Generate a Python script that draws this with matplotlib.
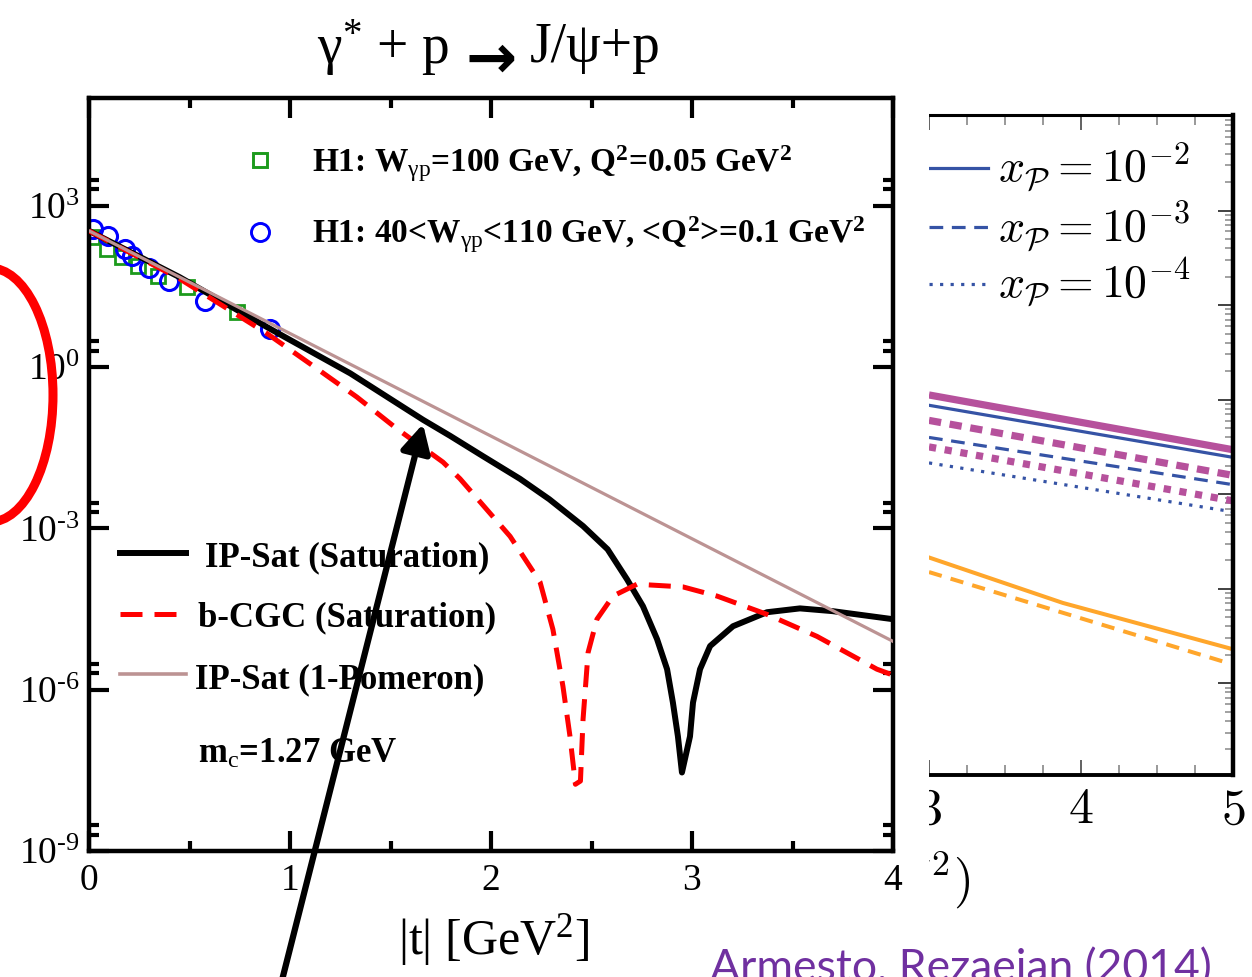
import matplotlib
matplotlib.use("Agg")
import matplotlib.pyplot as plt
from matplotlib.patches import Ellipse, Rectangle, FancyArrowPatch
from matplotlib.ticker import FixedLocator, FixedFormatter, NullFormatter

plt.rcParams.update({
    "font.family": ["Liberation Serif", "DejaVu Serif"],
    "mathtext.fontset": "custom",
    "mathtext.rm": "Liberation Serif",
    "mathtext.it": "Liberation Serif:italic",
    "mathtext.bf": "Liberation Serif:bold",
})

# ---------------- main panel data ----------------
h1_w100_t = [0.015, 0.09, 0.164, 0.244, 0.343, 0.49, 0.736]
h1_w100_y = [263, 158, 112, 76, 50, 31, 10.7]

h1_range_t = [0.02, 0.095, 0.18, 0.214, 0.30, 0.40, 0.577, 0.90]
h1_range_y = [372, 275, 158, 117, 68, 40, 17, 5.1]

ipsat_t = [0.0, 0.45, 0.90, 1.30, 1.662, 1.796, 1.96, 2.144, 2.29, 2.458, 2.58,
           2.677, 2.756, 2.826, 2.876, 2.905, 2.93, 2.95, 2.99, 3.005, 3.04,
           3.09, 3.204, 3.373, 3.537, 3.70, 4.0]
ipsat_y = [339, 46.8, 5.13, 0.759, 0.104, 0.0525, 0.0219, 8.32e-3, 3.47e-3,
           1.10e-3, 4.07e-4, 1.12e-4, 3.55e-5, 8.71e-6, 2.40e-6, 5.75e-7,
           1.35e-7, 2.88e-8, 1.35e-7, 5.75e-7, 2.40e-6, 6.46e-6, 1.51e-5,
           2.75e-5, 3.24e-5, 2.88e-5, 2.04e-5]

bcgc_t = [0.0, 0.45, 0.886, 1.114, 1.333, 1.532, 1.761, 1.846, 2.095, 2.244,
          2.308, 2.358, 2.393, 2.42, 2.445, 2.458, 2.483, 2.527, 2.607, 2.726,
          2.955, 3.124, 3.373, 3.622, 3.92, 4.0]
bcgc_y = [339, 43.7, 4.17, 1.05, 0.275, 0.0708, 0.0170, 8.32e-3, 7.08e-4,
          1.0e-4, 1.32e-5, 1.15e-6, 1.35e-7, 1.74e-8, 2.0e-8, 2.82e-7, 4.90e-6,
          2.04e-5, 5.50e-5, 9.12e-5, 8.13e-5, 5.50e-5, 2.51e-5, 9.77e-6,
          2.40e-6, 1.86e-6]

pomeron_t = [0.0, 4.0]
pomeron_y = [339, 7.9e-6]

main_xticks = [0, 1, 2, 3, 4]
main_xtick_labels = ["0", "1", "2", "3", "4"]
main_yticks = [1e-9, 1e-6, 1e-3, 1, 1e3]
main_ytick_labels = ["$10^{‐9}$", "$10^{‐6}$", "$10^{‐3}$", "$10^{0}$", "$10^{3}$"]

# ---------------- right (partly hidden) panel data ----------------
rp_x = [3.0, 5.0]
mag_solid = [1120, 295]
blue_solid = [871, 245]
mag_dash = [603, 158]
blue_dash = [398, 126]
mag_dot = [316, 85]
blue_dot = [214, 65]
orange_solid_x = [3.0, 3.88, 5.0]
orange_solid_y = [21.4, 7.08, 2.29]
orange_dash_x = [3.0, 4.95]
orange_dash_y = [15.0, 1.67]
right_xtick_labels = ["$3$", "$4$", "$5$"]
right_legend = [r"$x_{\mathcal{P}} = 10^{-2}$", r"$x_{\mathcal{P}} = 10^{-3}$",
                r"$x_{\mathcal{P}} = 10^{-4}$"]

W, H = 1252, 977
fig = plt.figure(figsize=(W / 100, H / 100), dpi=100)


def fx(px):
    return px / W


def fy(py):
    return 1 - py / H


# ================= right panel =================
axr = fig.add_axes([fx(929), fy(775), (1233 - 929) / W, (775 - 115) / H], zorder=0)
axr.set_xlim(3, 5)
axr.set_yscale("log")
axr.set_ylim(10 ** -0.97, 10 ** 6.01)
MAG, BLU, ORA = "#B6519C", "#3553A5", "#FFA62B"
axr.plot(rp_x, mag_solid, color=MAG, lw=5.2, solid_capstyle="butt")
axr.plot(rp_x, blue_solid, color=BLU, lw=2.3)
axr.plot(rp_x, mag_dash, color=MAG, lw=5.2, dashes=(1.7, 1.2))
axr.plot(rp_x, blue_dash, color=BLU, lw=2.3, dashes=(4.3, 2.7))
axr.plot(rp_x, mag_dot, color=MAG, lw=5.2, dashes=(1.0, 1.2))
axr.plot(rp_x, blue_dot, color=BLU, lw=2.3, dashes=(1.0, 2.3))
axr.plot(orange_solid_x, orange_solid_y, color=ORA, lw=2.9)
axr.plot(orange_dash_x, orange_dash_y, color=ORA, lw=2.9, dashes=(3.3, 2.3))

leg_styles = [dict(), dict(dashes=(4.3, 2.7)), dict(dashes=(1.0, 2.3))]
leg_y = [0.9197, 0.830, 0.744]
for yy, st, lab in zip(leg_y, leg_styles, right_legend):
    axr.plot([0, 0.194], [yy, yy], transform=axr.transAxes, color=BLU, lw=2.3, **st)
    axr.text(0.227, yy, lab, transform=axr.transAxes, fontsize=33,
             math_fontfamily="cm", va="center", ha="left")

axr.xaxis.set_major_locator(FixedLocator([3, 4, 5]))
axr.xaxis.set_minor_locator(FixedLocator([3.25, 3.5, 3.75, 4.25, 4.5, 4.75]))
axr.tick_params(axis="x", which="both", direction="in", top=True, bottom=True,
                labelbottom=False, labeltop=False)
axr.tick_params(axis="x", which="major", length=11, width=1.3, color="#555555")
axr.tick_params(axis="x", which="minor", length=7.5, width=1.2, color="#888888")
axr.yaxis.set_ticks_position("right")
axr.tick_params(axis="y", which="both", direction="in", left=False, right=True,
                labelleft=False, labelright=False)
axr.tick_params(axis="y", which="major", length=11, width=1.3, color="#333333")
axr.tick_params(axis="y", which="minor", length=6, width=1.1, color="#888888")
axr.spines["left"].set_visible(False)
axr.spines["top"].set_linewidth(2.2)
axr.spines["bottom"].set_linewidth(2.8)
axr.spines["right"].set_linewidth(3.2)
for xv, lab in zip([3, 4, 5], right_xtick_labels):
    axr.text(xv, -0.0545, lab, transform=axr.get_xaxis_transform(), fontsize=36,
             math_fontfamily="cm", ha="center", va="center")
fig.text(fx(970), fy(895), r"$|t|\ (\mathrm{GeV}^2)$", fontsize=37,
         math_fontfamily="cm", ha="right", va="baseline", zorder=0.3)

# white backdrop of the pasted main figure
fig.add_artist(Rectangle((0, 0), fx(929), 1, transform=fig.transFigure,
                         facecolor="white", edgecolor="none", zorder=0.5))

# ================= main panel =================
ax = fig.add_axes([fx(89), fy(851), (893 - 89) / W, (851 - 98) / H], zorder=2)
ax.set_xlim(0, 4)
ax.set_yscale("log")
ax.set_ylim(1e-9, 1e5)

ax.plot(h1_w100_t, h1_w100_y, ls="none", marker="s", ms=10.5, mfc="none",
        mec="#1C9A1C", mew=2.0, zorder=1)
ax.plot(h1_range_t, h1_range_y, ls="none", marker="o", ms=13, mfc="none",
        mec="#0000FF", mew=2.2, zorder=1)
ax.plot(ipsat_t, ipsat_y, color="black", lw=4.3, zorder=2)
ax.plot(bcgc_t, bcgc_y, color="#FF0000", lw=3.6, dashes=(4.4, 2.4), zorder=3)
ax.plot(pomeron_t, pomeron_y, color="#BC9393", lw=2.3, zorder=4)

ax.xaxis.set_major_locator(FixedLocator(main_xticks))
ax.xaxis.set_minor_locator(FixedLocator([0.5, 1.5, 2.5, 3.5]))
ax.xaxis.set_major_formatter(FixedFormatter(main_xtick_labels))
ax.yaxis.set_major_locator(FixedLocator(main_yticks))
ax.yaxis.set_minor_locator(FixedLocator([2e-9, 3e-9, 2e-6, 3e-6, 2e-3, 3e-3,
                                         2, 3, 2e3, 3e3]))
ax.yaxis.set_major_formatter(FixedFormatter(main_ytick_labels))
ax.yaxis.set_minor_formatter(NullFormatter())
ax.tick_params(which="both", direction="in", top=True, right=True, width=3,
               labelsize=27)
ax.tick_params(which="major", length=14.5)
ax.tick_params(which="minor", length=7)
ax.tick_params(axis="x", pad=9)
ax.tick_params(axis="y", pad=6.5)
for sp in ax.spines.values():
    sp.set_linewidth(3.2)


def ax_xy(px, py):
    return (px - 89) / 804, (851 - py) / 753


# upper legend (data points)
for (px, py), mk, col, ms in [((260, 160), "s", "#1C9A1C", 10.5),
                              ((260, 232), "o", "#0000FF", 13)]:
    x0, y0 = ax_xy(px, py)
    ax.plot([x0], [y0], transform=ax.transAxes, ls="none", marker=mk, ms=ms,
            mfc="none", mec=col, mew=2.1, clip_on=False)
for py, txt in [(172, r"H1: W$_{\mathrm{γp}}$=100 GeV, Q$^{\mathbf{2}}$=0.05 GeV$^{\mathbf{2}}$"),
                (243, r"H1: 40<W$_{\mathrm{γp}}$<110 GeV, <Q$^{\mathbf{2}}$>=0.1 GeV$^{\mathbf{2}}$")]:
    x0, y0 = ax_xy(312, py)
    ax.text(x0, y0, txt, transform=ax.transAxes, fontsize=24, fontweight="bold",
            ha="left", va="baseline")

# lower legend (curves)
legend_rows = [
    (553, dict(color="black", lw=4.3), 205, 566, "IP-Sat (Saturation)"),
    (614, dict(color="#FF0000", lw=3.6, dashes=(4.4, 2.4)), 198, 626, "b-CGC (Saturation)"),
    (674, dict(color="#BC9393", lw=2.6), 195, 688, "IP-Sat (1-Pomeron)"),
]
for ly, st, tx, ty, txt in legend_rows:
    xa, ya = ax_xy(120, ly)
    xb, _ = ax_xy(186, ly)
    ax.plot([xa, xb], [ya, ya], transform=ax.transAxes, clip_on=False, **st)
    x0, y0 = ax_xy(tx, ty)
    ax.text(x0, y0, txt, transform=ax.transAxes, fontsize=25, fontweight="bold",
            ha="left", va="baseline")
x0, y0 = ax_xy(198, 763)
ax.text(x0, y0, r"m$_{\mathrm{c}}$=1.27 GeV", transform=ax.transAxes, fontsize=25,
        fontweight="bold", ha="left", va="baseline")

# title (three pieces: left side, bold arrow, right side) and x label
fig.text(fx(449), fy(48), "$\\mathrm{γ}^{*}$ + p", fontsize=40,
         ha="right", va="center", zorder=3)
fig.text(fx(491), fy(61), "→", fontsize=44, fontweight="bold",
         family="DejaVu Sans", ha="center", va="center", zorder=3)
fig.text(fx(530), fy(48), "J/ψ+p", fontsize=40, ha="left", va="center", zorder=3)
fig.text(fx(494), fy(940), "|t| [GeV$^{2}$]", fontsize=36, ha="center",
         va="center", zorder=3)

# ================= slide annotations =================
fig.add_artist(Ellipse((fx(-10), fy(395)), width=126 / W, height=254 / H,
                       transform=fig.transFigure, fill=False, edgecolor="#FF0000",
                       lw=6.5, zorder=5))
fig.add_artist(FancyArrowPatch((fx(277), fy(1000)), (fx(423), fy(424)),
                               transform=fig.transFigure,
                               arrowstyle="-|>,head_length=0.85,head_width=0.45",
                               mutation_scale=20, lw=4.5, color="black",
                               shrinkA=0, shrinkB=0, zorder=6))
fig.text(fx(710), fy(981), "Armesto, Rezaeian (2014)", color="#7030A0",
         fontsize=32, family="Lato", ha="left", va="baseline", zorder=6)

fig.savefig("out.png", dpi=100)
